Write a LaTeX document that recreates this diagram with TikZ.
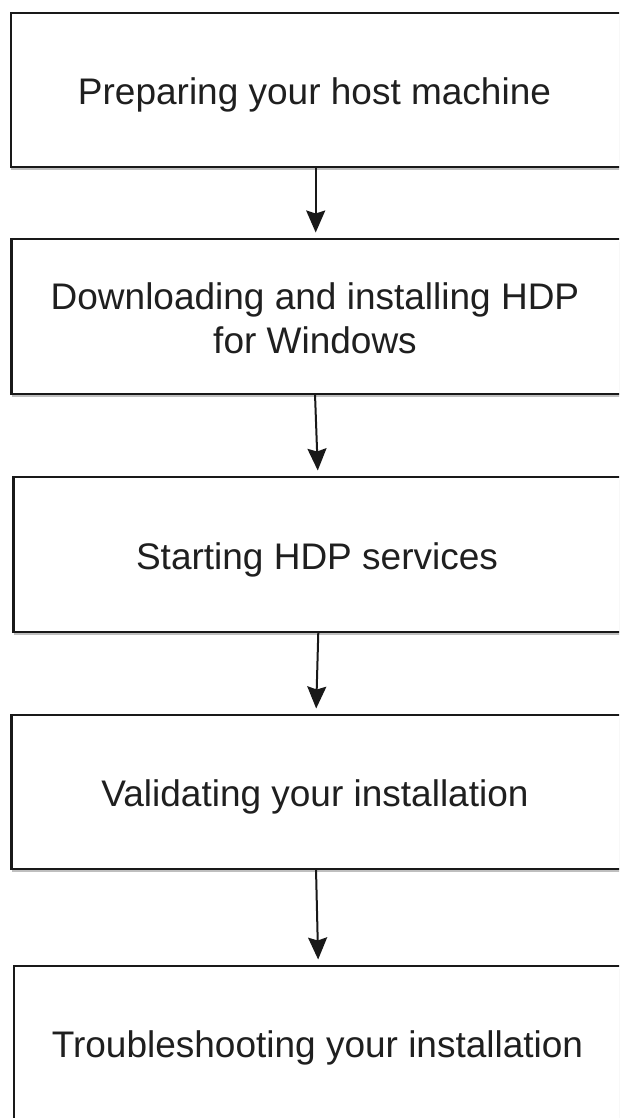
\documentclass[tikz,border=0pt]{standalone}
\usepackage{fontspec}
\setmainfont{Liberation Sans}
\usetikzlibrary{arrows.meta,shadows}
\newcommand\boxlabel[1]{\hspace*{-33pt}\raisebox{-6pt}[\height][\depth]{\begin{tabular}{@{}c@{}}#1\end{tabular}}}
\begin{document}
\begin{tikzpicture}[x=1pt,y=-1pt,
  stepbox/.style={draw=black!90, line width=2.2pt, fill=white, anchor=north west,
    minimum width=640pt, inner sep=0pt, outer sep=0pt,
    font=\fontsize{37}{44}\selectfont, text=black!88,
    drop shadow={shadow xshift=0pt, shadow yshift=-3pt, opacity=0.25, fill=black}},
  arr/.style={line width=2pt, draw=black!90, -{Stealth[length=22pt,width=19pt,inset=3pt]}, shorten >=6.5pt}]
\useasboundingbox (0,0) rectangle (619,1118);
\clip (0,0) rectangle (619,1118);
\fill[white] (0,0) rectangle (619,1118);
\node[stepbox, minimum height=154pt] (b1) at (11,13) {\boxlabel{Preparing your host machine}};
\node[stepbox, minimum height=155pt] (b2) at (11.5,239) {\boxlabel{Downloading and installing HDP\\for Windows}};
\node[stepbox, minimum height=155pt] (b3) at (13.5,477) {\boxlabel{Starting HDP services}};
\node[stepbox, minimum height=154pt] (b4) at (11.5,715) {\boxlabel{Validating your installation}};
\node[stepbox, minimum height=154pt] (b5) at (14,966) {\boxlabel{Troubleshooting your installation}};
\draw[arr] ([xshift=304.7pt]b1.south west) -- ([xshift=304.2pt]b2.north west);
\draw[arr] ([xshift=303.5pt]b2.south west) -- ([xshift=304.5pt]b3.north west);
\draw[arr] ([xshift=304.8pt]b3.south west) -- ([xshift=304.5pt]b4.north west);
\draw[arr] ([xshift=304.5pt]b4.south west) -- ([xshift=304.3pt]b5.north west);
\end{tikzpicture}
\end{document}
